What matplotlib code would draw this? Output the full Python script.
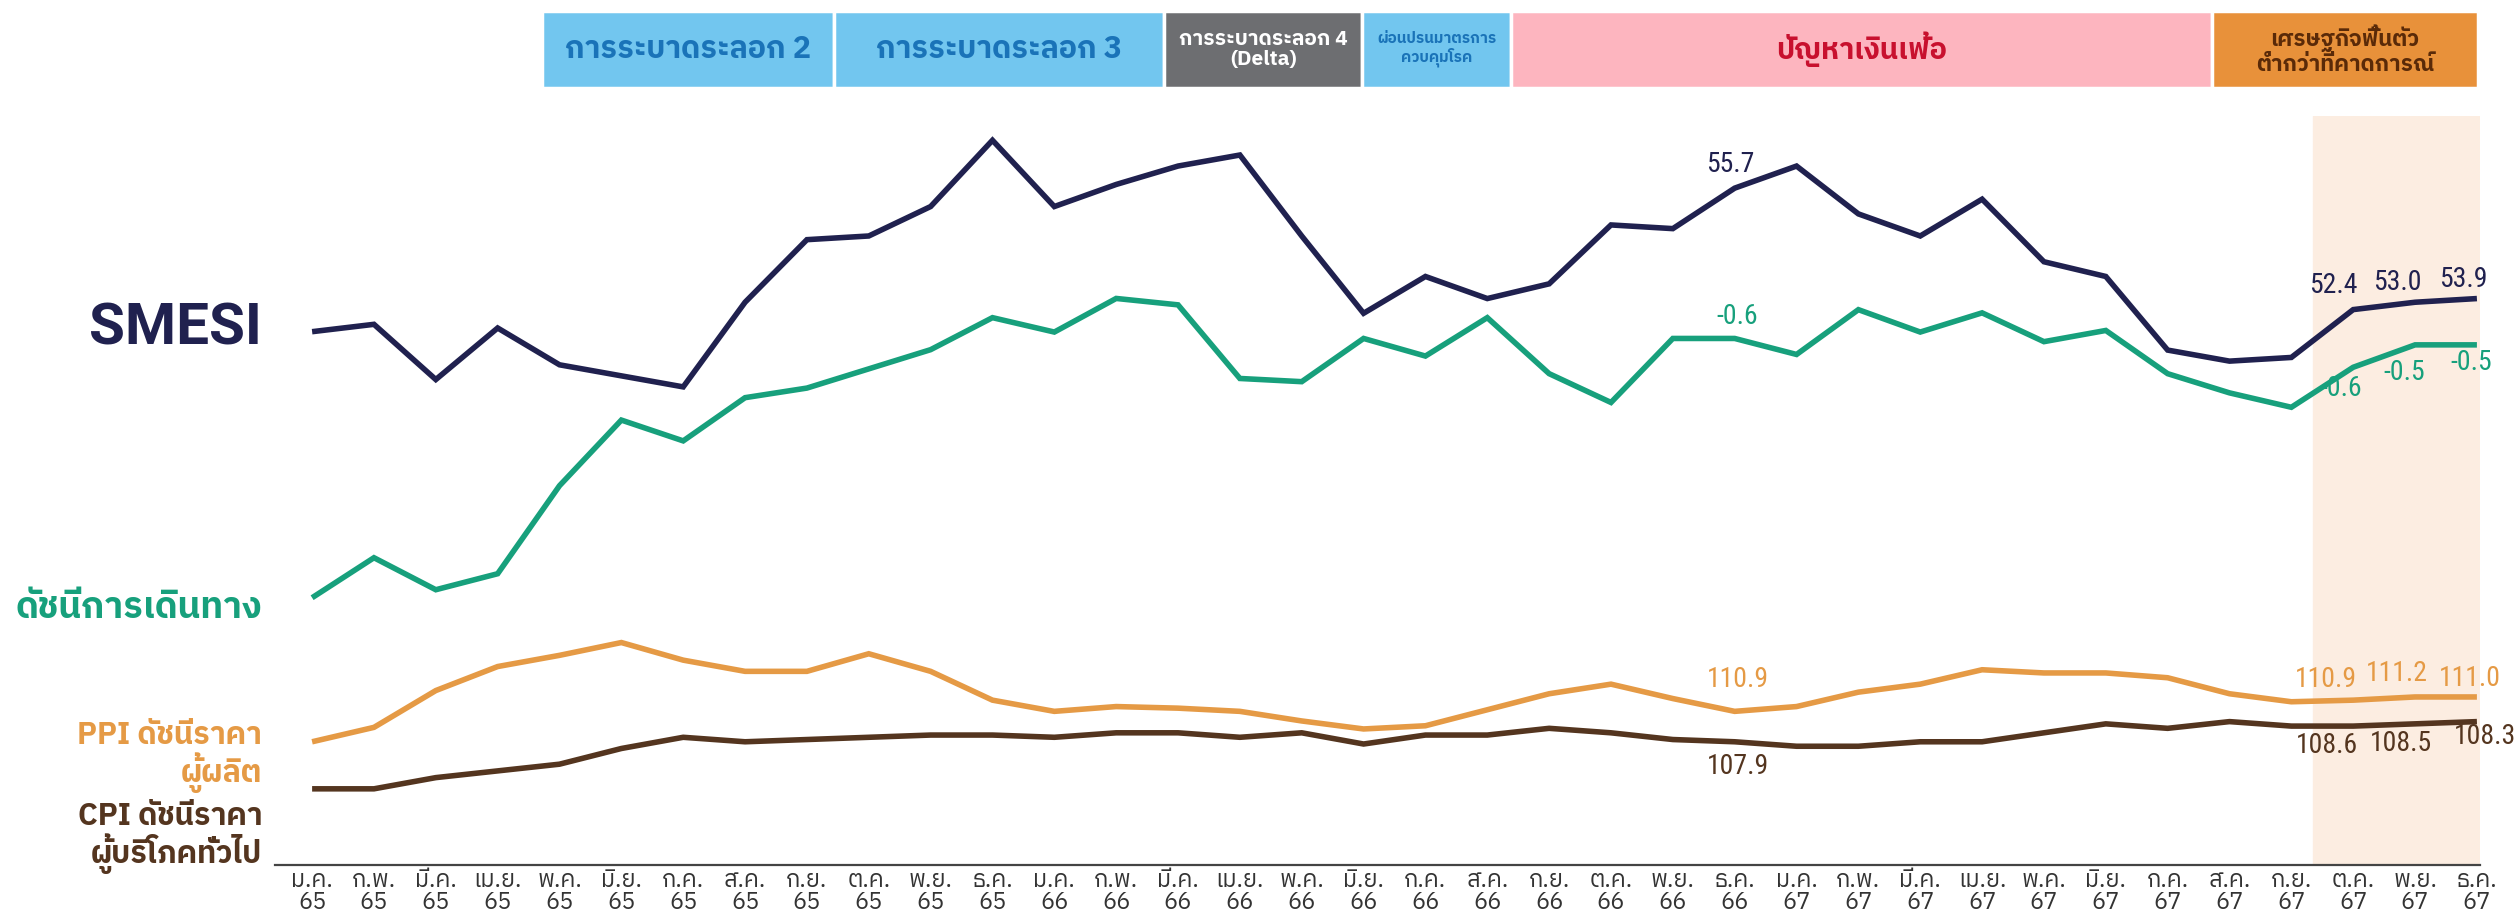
import matplotlib
matplotlib.use('Agg')
import matplotlib.pyplot as plt
from matplotlib import font_manager as fm
from matplotlib.ft2font import FT2Font
from matplotlib.patches import Rectangle


# หาฟอนต์ที่มีอักษรไทยจริง ๆ (ตรวจจาก charmap)
def has_thai(path):
    try:
        return 0x0E01 in FT2Font(path).get_charmap()
    except Exception:
        return False


thai_fonts = []
for f in fm.fontManager.ttflist:
    if f.name not in thai_fonts and has_thai(f.fname):
        thai_fonts.append(f.name)
thai_fonts.sort(key=lambda n: ('Thai' not in n, 'Mono' in n, 'Serif' in n, n))
plt.rcParams['font.family'] = thai_fonts[:1] + ['DejaVu Sans']

installed = {f.name for f in fm.fontManager.ttflist}
num_family = [n for n in ['Liberation Sans Narrow', 'Roboto Condensed', 'Open Sans Condensed']
              if n in installed][:1] + ['DejaVu Sans']

# ข้อมูล
months = ['ม.ค.', 'ก.พ.', 'มี.ค.', 'เม.ย.', 'พ.ค.', 'มิ.ย.', 'ก.ค.', 'ส.ค.', 'ก.ย.', 'ต.ค.', 'พ.ย.', 'ธ.ค.']
years = ['65', '66', '67']
tick_labels = [m + '\n' + y for y in years for m in months]

smesi = [51.8, 52.0, 50.5, 51.9, 50.9, 50.6, 50.3, 52.6, 54.3, 54.4, 55.2, 57.0,
         55.2, 55.8, 56.3, 56.6, 54.4, 52.3, 53.3, 52.7, 53.1, 54.7, 54.6, 55.7,
         56.3, 55.0, 54.4, 55.4, 53.7, 53.3, 51.3, 51.0, 51.1, 52.4, 52.6, 52.7]
travel = [-2.22, -1.97, -2.17, -2.07, -1.52, -1.11, -1.24, -0.97, -0.91, -0.79, -0.67, -0.47,
          -0.56, -0.35, -0.39, -0.85, -0.87, -0.60, -0.71, -0.47, -0.82, -1.00, -0.60, -0.60,
          -0.70, -0.42, -0.56, -0.44, -0.62, -0.55, -0.82, -0.94, -1.03, -0.78, -0.64, -0.64]
ppi = [109.0, 109.9, 112.2, 113.7, 114.4, 115.2, 114.1, 113.4, 113.4, 114.5, 113.4, 111.6,
       110.9, 111.2, 111.1, 110.9, 110.3, 109.8, 110.0, 111.0, 112.0, 112.6, 111.7, 110.9,
       111.2, 112.1, 112.6, 113.5, 113.3, 113.3, 113.0, 112.0, 111.5, 111.6, 111.8, 111.8]
cpi = [105.8, 105.8, 106.3, 106.6, 106.9, 107.6, 108.1, 107.9, 108.0, 108.1, 108.2, 108.2,
       108.1, 108.3, 108.3, 108.1, 108.3, 107.8, 108.2, 108.2, 108.5, 108.3, 108.0, 107.9,
       107.7, 107.7, 107.9, 107.9, 108.3, 108.7, 108.5, 108.8, 108.6, 108.6, 108.7, 108.8]

# ป้ายตัวเลขบนเส้น (ตำแหน่งเดือน: ข้อความ)
smesi_marks = {23: '55.7', 33: '52.4', 34: '53.0', 35: '53.9'}
travel_marks = {23: '-0.6', 33: '-0.6', 34: '-0.5', 35: '-0.5'}
ppi_marks = {23: '110.9', 33: '110.9', 34: '111.2', 35: '111.0'}
cpi_marks = {23: '107.9', 33: '108.6', 34: '108.5', 35: '108.3'}

# แถบเหตุการณ์ด้านบน
periods = ['การระบาดระลอก 2', 'การระบาดระลอก 3', 'การระบาดระลอก 4\n(Delta)',
           'ผ่อนปรนมาตรการ\nควบคุมโรค', 'ปัญหาเงินเฟ้อ', 'เศรษฐกิจฟื้นตัว\nต่ำกว่าที่คาดการณ์']
period_edges = [3.72, 8.43, 13.78, 16.98, 19.39, 30.71, 35.02]

navy = '#20214f'
green = '#17a07c'
orange = '#e59a45'
brown = '#54351f'

x = list(range(len(tick_labels)))

fig = plt.figure(figsize=(25.15, 9.15), dpi=100)
left, right = 275 / 2515, 2480 / 2515
ax = fig.add_axes([left, 50 / 915, right - left, 749 / 915])
ax.set_xlim(-0.6, 35.05)
ax.set_ylim(0, 1)
ax.axvspan(32.35, 35.05, color='#fcede1', zorder=0)
for s in ['top', 'right', 'left']:
    ax.spines[s].set_visible(False)
ax.spines['bottom'].set_color('#444444')
ax.spines['bottom'].set_linewidth(1.6)
ax.set_yticks([])
ax.set_xticks(x)
ax.set_xticklabels(tick_labels, fontsize=17, color='#333333', linespacing=0.95)
ax.tick_params(axis='x', length=0, pad=3)

# (ค่า, สี, ขอบเขตแกน y, ป้ายตัวเลข, ระยะเลื่อนป้ายเป็น points)
series = [
    (smesi, navy, (37.31, 57.66), smesi_marks,
     {23: (-3, 17), 33: (-14, 17), 34: (-13, 14), 35: (-10, 14)}),
    (travel, green, (-3.89, 0.79), travel_marks,
     {23: (2, 16), 33: (-9, -15), 34: (-8, -20), 35: (-4, -13)}),
    (ppi, orange, (101.3, 148.1), ppi_marks,
     {23: (2, 23), 33: (-20, 15), 34: (-13, 17), 35: (-5, 13)}),
    (cpi, brown, (102.4, 135.83), cpi_marks,
     {23: (2, -18), 33: (-19, -14), 34: (-10, -14), 35: (6, -11)}),
]
for vals, col, lim, marks, offs in series:
    a = ax.twinx()
    a.set_ylim(*lim)
    a.axis('off')
    a.plot(x, vals, color=col, lw=4, solid_joinstyle='miter', solid_capstyle='butt')
    for i, txt in marks.items():
        a.annotate(txt, (x[i], vals[i]), xytext=offs[i], textcoords='offset points',
                   ha='center', va='center', fontsize=20, color=col, family=num_family)

# แถบเหตุการณ์
bx = fig.add_axes([left, 1 - 88 / 915, right - left, 77 / 915], sharex=ax)
bx.axis('off')
bx.set_ylim(0, 1)
box_colors = ['#72c6ef', '#72c6ef', '#6d6e71', '#72c6ef', '#fdb5bf', '#e8913a']
text_colors = ['#1a73b8', '#1a73b8', '#ffffff', '#1a73b8', '#c8102e', '#5a2a08']
text_sizes = [22, 22, 15, 11, 21, 16]
for k, label in enumerate(periods):
    x0, x1 = period_edges[k], period_edges[k + 1]
    bx.add_patch(Rectangle((x0, 0), x1 - x0, 1, facecolor=box_colors[k], edgecolor='white', lw=2.5))
    bx.text((x0 + x1) / 2, 0.5, label, ha='center', va='center', color=text_colors[k],
            fontsize=text_sizes[k], fontweight='bold', linespacing=1.1)

# ชื่อเส้นด้านซ้าย
tx = 262 / 2515
fig.text(tx, 1 - 329 / 915, 'SMESI', ha='right', va='center', fontsize=42, fontweight='bold',
         color=navy, family=['Roboto', 'DejaVu Sans'])
fig.text(tx, 1 - 609 / 915, 'ดัชนีการเดินทาง', ha='right', va='center', fontsize=26,
         fontweight='bold', color=green)
fig.text(tx, 1 - 757 / 915, 'PPI ดัชนีราคา\nผู้ผลิต', ha='right', va='center', fontsize=22,
         fontweight='bold', color=orange, linespacing=1.05)
fig.text(tx, 1 - 838 / 915, 'CPI ดัชนีราคา\nผู้บริโภคทั่วไป', ha='right', va='center', fontsize=22,
         fontweight='bold', color=brown, linespacing=1.05)

fig.savefig('out.png', dpi=100)
